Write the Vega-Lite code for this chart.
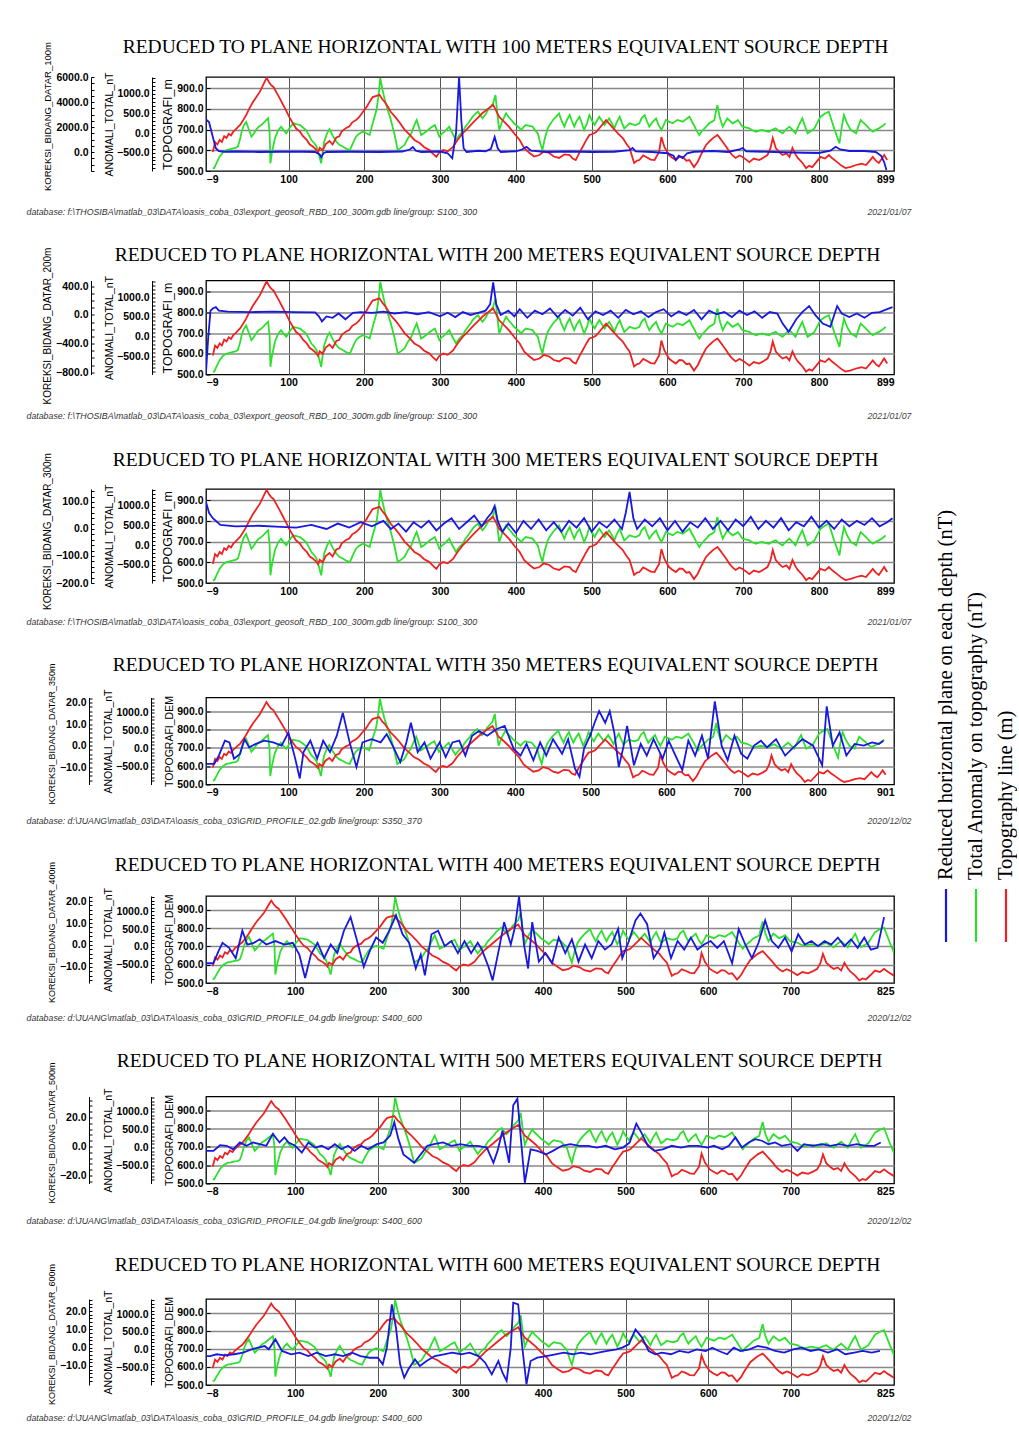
{
"$schema": "https://vega.github.io/schema/vega-lite/v6.json",
"background": "white",
"padding": {"left": 25, "top": 35, "right": 0, "bottom": 0},
"config": {
 "view": {"stroke": "#000", "strokeWidth": 1.3},
 "axis": {"grid": false, "labelFont": "Liberation Sans", "labelFontSize": 10.5, "labelFontWeight": "bold", "labelColor": "#000", "titleFont": "Liberation Sans", "titleFontWeight": "normal", "titleColor": "#000", "domainColor": "#000", "tickColor": "#000", "labelOverlap": false}
},
"datasets": {
"red": [{"x":0,"v":592},{"x":3,"v":640},{"x":6,"v":628},{"x":9,"v":650},{"x":12,"v":640},{"x":15,"v":668},{"x":18,"v":660},{"x":21,"v":680},{"x":24,"v":672},{"x":27,"v":690},{"x":30,"v":700},{"x":33,"v":712},{"x":36,"v":722},{"x":40,"v":745},{"x":44,"v":770},{"x":48,"v":800},{"x":53,"v":833},{"x":57,"v":855},{"x":62,"v":882},{"x":66,"v":912},{"x":69,"v":935},{"x":71,"v":950},{"x":74,"v":930},{"x":77,"v":915},{"x":80,"v":906},{"x":84,"v":880},{"x":88,"v":853},{"x":92,"v":825},{"x":97,"v":790},{"x":101,"v":760},{"x":106,"v":728},{"x":110,"v":705},{"x":115,"v":690},{"x":119,"v":668},{"x":124,"v":650},{"x":128,"v":628},{"x":132,"v":618},{"x":136,"v":605},{"x":139,"v":590},{"x":141,"v":612},{"x":145,"v":600},{"x":149,"v":630},{"x":154,"v":645},{"x":158,"v":628},{"x":163,"v":662},{"x":167,"v":668},{"x":170,"v":690},{"x":173,"v":700},{"x":176,"v":708},{"x":180,"v":715},{"x":184,"v":735},{"x":189,"v":746},{"x":193,"v":760},{"x":198,"v":785},{"x":203,"v":809},{"x":207,"v":835},{"x":211,"v":857},{"x":215,"v":862},{"x":220,"v":868},{"x":224,"v":845},{"x":227,"v":833},{"x":231,"v":810},{"x":235,"v":785},{"x":241,"v":760},{"x":247,"v":732},{"x":253,"v":700},{"x":260,"v":674},{"x":266,"v":650},{"x":273,"v":635},{"x":279,"v":615},{"x":286,"v":601},{"x":290,"v":585},{"x":295,"v":568},{"x":299,"v":590},{"x":304,"v":601},{"x":310,"v":595},{"x":317,"v":616},{"x":323,"v":650},{"x":330,"v":683},{"x":336,"v":705},{"x":343,"v":732},{"x":350,"v":758},{"x":356,"v":780},{"x":363,"v":800},{"x":370,"v":819},{"x":374,"v":790},{"x":378,"v":761},{"x":384,"v":740},{"x":391,"v":713},{"x":398,"v":680},{"x":405,"v":650},{"x":411,"v":610},{"x":418,"v":587},{"x":424,"v":570},{"x":431,"v":577},{"x":437,"v":595},{"x":444,"v":587},{"x":450,"v":570},{"x":457,"v":563},{"x":464,"v":580},{"x":471,"v":577},{"x":475,"v":560},{"x":479,"v":553},{"x":484,"v":590},{"x":488,"v":616},{"x":493,"v":650},{"x":497,"v":674},{"x":502,"v":680},{"x":506,"v":688},{"x":512,"v":715},{"x":519,"v":746},{"x":524,"v":725},{"x":528,"v":708},{"x":535,"v":680},{"x":541,"v":659},{"x":546,"v":630},{"x":550,"v":611},{"x":556,"v":539},{"x":560,"v":550},{"x":563,"v":553},{"x":568,"v":575},{"x":572,"v":568},{"x":578,"v":555},{"x":583,"v":553},{"x":589,"v":592},{"x":592,"v":664},{"x":596,"v":616},{"x":602,"v":577},{"x":606,"v":565},{"x":611,"v":553},{"x":616,"v":570},{"x":620,"v":568},{"x":625,"v":550},{"x":629,"v":553},{"x":635,"v":519},{"x":640,"v":545},{"x":644,"v":577},{"x":648,"v":605},{"x":651,"v":626},{"x":656,"v":645},{"x":660,"v":659},{"x":666,"v":674},{"x":670,"v":655},{"x":673,"v":640},{"x":678,"v":615},{"x":682,"v":592},{"x":686,"v":575},{"x":690,"v":563},{"x":695,"v":575},{"x":699,"v":568},{"x":704,"v":555},{"x":708,"v":543},{"x":714,"v":560},{"x":721,"v":553},{"x":727,"v":565},{"x":732,"v":577},{"x":736,"v":610},{"x":739,"v":659},{"x":743,"v":611},{"x":748,"v":590},{"x":752,"v":577},{"x":757,"v":585},{"x":761,"v":568},{"x":765,"v":611},{"x":769,"v":580},{"x":772,"v":563},{"x":778,"v":540},{"x":783,"v":514},{"x":787,"v":525},{"x":791,"v":519},{"x":797,"v":545},{"x":802,"v":568},{"x":808,"v":560},{"x":813,"v":577},{"x":818,"v":560},{"x":824,"v":543},{"x":830,"v":525},{"x":835,"v":514},{"x":842,"v":520},{"x":849,"v":529},{"x":856,"v":535},{"x":862,"v":529},{"x":867,"v":550},{"x":871,"v":568},{"x":875,"v":550},{"x":879,"v":539},{"x":883,"v":560},{"x":886,"v":577},{"x":890,"v":553}],
"green": [{"x":0,"v":-900},{"x":2,"v":-890},{"x":5,"v":-760},{"x":9,"v":-604},{"x":13,"v":-500},{"x":18,"v":-434},{"x":22,"v":-420},{"x":27,"v":-391},{"x":30,"v":-380},{"x":33,"v":-349},{"x":36,"v":-150},{"x":38,"v":26},{"x":41,"v":200},{"x":44,"v":281},{"x":47,"v":120},{"x":51,"v":-94},{"x":54,"v":-20},{"x":57,"v":76},{"x":60,"v":150},{"x":64,"v":204},{"x":68,"v":280},{"x":71,"v":340},{"x":73,"v":374},{"x":75,"v":0},{"x":76,"v":-774},{"x":78,"v":-500},{"x":82,"v":-134},{"x":86,"v":60},{"x":90,"v":162},{"x":93,"v":80},{"x":97,"v":-8},{"x":101,"v":120},{"x":106,"v":247},{"x":110,"v":230},{"x":115,"v":204},{"x":119,"v":140},{"x":123,"v":76},{"x":127,"v":-60},{"x":130,"v":-179},{"x":134,"v":-260},{"x":137,"v":-349},{"x":140,"v":-550},{"x":143,"v":-774},{"x":145,"v":-480},{"x":147,"v":-219},{"x":151,"v":0},{"x":154,"v":100},{"x":158,"v":-60},{"x":163,"v":-221},{"x":167,"v":-300},{"x":172,"v":-349},{"x":176,"v":-400},{"x":181,"v":-434},{"x":185,"v":-250},{"x":189,"v":-94},{"x":193,"v":-20},{"x":198,"v":34},{"x":202,"v":0},{"x":207,"v":-51},{"x":211,"v":250},{"x":216,"v":587},{"x":219,"v":1000},{"x":221,"v":1400},{"x":224,"v":1100},{"x":227,"v":842},{"x":231,"v":580},{"x":235,"v":332},{"x":240,"v":-50},{"x":244,"v":-434},{"x":248,"v":-380},{"x":253,"v":-306},{"x":257,"v":-150},{"x":262,"v":-8},{"x":266,"v":200},{"x":269,"v":332},{"x":272,"v":150},{"x":275,"v":-51},{"x":279,"v":0},{"x":284,"v":76},{"x":288,"v":140},{"x":293,"v":204},{"x":296,"v":60},{"x":299,"v":-94},{"x":302,"v":-20},{"x":306,"v":34},{"x":309,"v":100},{"x":312,"v":162},{"x":316,"v":0},{"x":321,"v":-179},{"x":325,"v":-60},{"x":330,"v":34},{"x":333,"v":150},{"x":337,"v":247},{"x":340,"v":330},{"x":343,"v":417},{"x":347,"v":500},{"x":350,"v":545},{"x":353,"v":450},{"x":356,"v":374},{"x":360,"v":480},{"x":363,"v":587},{"x":367,"v":680},{"x":370,"v":757},{"x":373,"v":970},{"x":376,"v":400},{"x":378,"v":76},{"x":382,"v":300},{"x":387,"v":502},{"x":390,"v":420},{"x":394,"v":332},{"x":397,"v":260},{"x":400,"v":204},{"x":404,"v":140},{"x":407,"v":76},{"x":410,"v":150},{"x":413,"v":204},{"x":418,"v":180},{"x":422,"v":162},{"x":425,"v":80},{"x":429,"v":-8},{"x":432,"v":-250},{"x":435,"v":-434},{"x":438,"v":-150},{"x":442,"v":119},{"x":445,"v":220},{"x":449,"v":332},{"x":453,"v":420},{"x":457,"v":502},{"x":460,"v":330},{"x":464,"v":162},{"x":467,"v":320},{"x":471,"v":459},{"x":474,"v":300},{"x":477,"v":162},{"x":480,"v":300},{"x":484,"v":417},{"x":487,"v":250},{"x":490,"v":76},{"x":494,"v":260},{"x":497,"v":459},{"x":500,"v":330},{"x":504,"v":204},{"x":507,"v":320},{"x":510,"v":417},{"x":514,"v":300},{"x":517,"v":204},{"x":520,"v":290},{"x":523,"v":374},{"x":527,"v":240},{"x":530,"v":119},{"x":533,"v":270},{"x":537,"v":417},{"x":540,"v":260},{"x":543,"v":119},{"x":547,"v":190},{"x":550,"v":247},{"x":554,"v":220},{"x":558,"v":204},{"x":563,"v":247},{"x":566,"v":380},{"x":570,"v":459},{"x":573,"v":300},{"x":576,"v":162},{"x":580,"v":270},{"x":585,"v":374},{"x":588,"v":220},{"x":592,"v":76},{"x":595,"v":200},{"x":598,"v":332},{"x":602,"v":290},{"x":607,"v":247},{"x":610,"v":290},{"x":613,"v":332},{"x":617,"v":310},{"x":620,"v":289},{"x":625,"v":360},{"x":629,"v":417},{"x":632,"v":300},{"x":635,"v":204},{"x":638,"v":80},{"x":642,"v":-51},{"x":645,"v":40},{"x":649,"v":119},{"x":652,"v":180},{"x":655,"v":247},{"x":659,"v":290},{"x":662,"v":332},{"x":664,"v":550},{"x":666,"v":714},{"x":669,"v":400},{"x":673,"v":162},{"x":676,"v":270},{"x":679,"v":374},{"x":683,"v":300},{"x":686,"v":247},{"x":690,"v":290},{"x":693,"v":332},{"x":696,"v":250},{"x":699,"v":162},{"x":704,"v":140},{"x":708,"v":119},{"x":712,"v":70},{"x":717,"v":34},{"x":721,"v":60},{"x":725,"v":76},{"x":730,"v":50},{"x":734,"v":34},{"x":738,"v":80},{"x":743,"v":119},{"x":747,"v":50},{"x":752,"v":-8},{"x":756,"v":80},{"x":761,"v":162},{"x":765,"v":80},{"x":769,"v":-8},{"x":773,"v":180},{"x":778,"v":374},{"x":782,"v":150},{"x":785,"v":-8},{"x":790,"v":60},{"x":794,"v":119},{"x":798,"v":270},{"x":802,"v":417},{"x":808,"v":500},{"x":813,"v":545},{"x":817,"v":300},{"x":820,"v":119},{"x":824,"v":-100},{"x":827,"v":-264},{"x":830,"v":150},{"x":833,"v":459},{"x":837,"v":250},{"x":842,"v":76},{"x":846,"v":30},{"x":849,"v":-8},{"x":852,"v":170},{"x":855,"v":332},{"x":859,"v":260},{"x":862,"v":204},{"x":867,"v":100},{"x":871,"v":34},{"x":875,"v":80},{"x":879,"v":119},{"x":884,"v":180},{"x":888,"v":247}],
"b1": [{"x":-9,"v":2600},{"x":-5,"v":2400},{"x":0,"v":1200},{"x":4,"v":300},{"x":8,"v":60},{"x":15,"v":20},{"x":30,"v":40},{"x":60,"v":0},{"x":90,"v":20},{"x":120,"v":20},{"x":135,"v":0},{"x":141,"v":-200},{"x":143,"v":-420},{"x":146,"v":-100},{"x":150,"v":0},{"x":180,"v":20},{"x":220,"v":0},{"x":250,"v":40},{"x":260,"v":200},{"x":264,"v":400},{"x":268,"v":100},{"x":275,"v":0},{"x":300,"v":40},{"x":310,"v":-100},{"x":316,"v":-500},{"x":321,"v":1500},{"x":325,"v":6000},{"x":328,"v":2500},{"x":331,"v":300},{"x":335,"v":0},{"x":350,"v":100},{"x":360,"v":60},{"x":367,"v":250},{"x":372,"v":1200},{"x":376,"v":300},{"x":380,"v":0},{"x":400,"v":60},{"x":408,"v":200},{"x":414,"v":420},{"x":420,"v":100},{"x":440,"v":0},{"x":470,"v":40},{"x":500,"v":0},{"x":530,"v":20},{"x":550,"v":150},{"x":554,"v":320},{"x":558,"v":50},{"x":580,"v":0},{"x":600,"v":-100},{"x":608,"v":-300},{"x":611,"v":-640},{"x":615,"v":-300},{"x":620,"v":-480},{"x":626,"v":-100},{"x":635,"v":20},{"x":660,"v":80},{"x":680,"v":0},{"x":695,"v":200},{"x":699,"v":320},{"x":704,"v":60},{"x":740,"v":0},{"x":780,"v":-60},{"x":800,"v":-80},{"x":815,"v":100},{"x":822,"v":420},{"x":828,"v":200},{"x":840,"v":80},{"x":860,"v":80},{"x":875,"v":0},{"x":882,"v":-300},{"x":886,"v":-800},{"x":889,"v":-1440}],
"b2": [{"x":-9,"v":-800},{"x":-6,"v":-300},{"x":-3,"v":60},{"x":0,"v":90},{"x":4,"v":110},{"x":8,"v":60},{"x":20,"v":45},{"x":50,"v":40},{"x":80,"v":45},{"x":110,"v":40},{"x":135,"v":35},{"x":140,"v":-20},{"x":144,"v":-90},{"x":150,"v":-20},{"x":158,"v":-40},{"x":166,"v":20},{"x":175,"v":-60},{"x":185,"v":30},{"x":195,"v":40},{"x":210,"v":30},{"x":225,"v":45},{"x":240,"v":20},{"x":255,"v":40},{"x":270,"v":10},{"x":285,"v":40},{"x":300,"v":-20},{"x":310,"v":30},{"x":320,"v":-30},{"x":330,"v":40},{"x":340,"v":0},{"x":350,"v":30},{"x":360,"v":60},{"x":366,"v":150},{"x":370,"v":455},{"x":374,"v":150},{"x":380,"v":0},{"x":390,"v":60},{"x":398,"v":-20},{"x":405,"v":80},{"x":415,"v":-40},{"x":425,"v":60},{"x":435,"v":10},{"x":445,"v":90},{"x":455,"v":-30},{"x":465,"v":70},{"x":475,"v":-10},{"x":485,"v":100},{"x":495,"v":-60},{"x":505,"v":50},{"x":515,"v":0},{"x":525,"v":60},{"x":535,"v":-40},{"x":545,"v":70},{"x":555,"v":10},{"x":565,"v":50},{"x":575,"v":-30},{"x":585,"v":40},{"x":595,"v":80},{"x":605,"v":-20},{"x":615,"v":50},{"x":625,"v":0},{"x":635,"v":70},{"x":645,"v":-60},{"x":655,"v":60},{"x":665,"v":10},{"x":675,"v":40},{"x":685,"v":-30},{"x":695,"v":60},{"x":705,"v":0},{"x":715,"v":50},{"x":725,"v":-40},{"x":735,"v":40},{"x":745,"v":20},{"x":752,"v":-120},{"x":760,"v":-235},{"x":770,"v":-60},{"x":778,"v":40},{"x":787,"v":124},{"x":795,"v":0},{"x":805,"v":-120},{"x":815,"v":-166},{"x":824,"v":124},{"x":830,"v":20},{"x":840,"v":-30},{"x":850,"v":20},{"x":860,"v":-40},{"x":870,"v":30},{"x":880,"v":40},{"x":890,"v":80},{"x":897,"v":110}],
"b3": [{"x":-9,"v":100},{"x":-5,"v":60},{"x":0,"v":40},{"x":10,"v":15},{"x":30,"v":10},{"x":60,"v":12},{"x":90,"v":8},{"x":110,"v":5},{"x":130,"v":15},{"x":150,"v":0},{"x":165,"v":20},{"x":180,"v":5},{"x":195,"v":25},{"x":210,"v":10},{"x":225,"v":30},{"x":235,"v":0},{"x":245,"v":20},{"x":255,"v":-10},{"x":265,"v":25},{"x":275,"v":5},{"x":285,"v":30},{"x":295,"v":-5},{"x":305,"v":20},{"x":315,"v":40},{"x":325,"v":0},{"x":335,"v":25},{"x":345,"v":50},{"x":355,"v":10},{"x":362,"v":40},{"x":368,"v":60},{"x":372,"v":85},{"x":376,"v":30},{"x":382,"v":-10},{"x":390,"v":20},{"x":400,"v":-15},{"x":410,"v":30},{"x":420,"v":0},{"x":430,"v":35},{"x":440,"v":-5},{"x":450,"v":25},{"x":460,"v":-10},{"x":470,"v":30},{"x":480,"v":5},{"x":490,"v":40},{"x":500,"v":-10},{"x":510,"v":25},{"x":520,"v":5},{"x":530,"v":35},{"x":540,"v":0},{"x":545,"v":60},{"x":550,"v":137},{"x":555,"v":40},{"x":560,"v":0},{"x":570,"v":35},{"x":580,"v":10},{"x":590,"v":40},{"x":600,"v":-5},{"x":610,"v":30},{"x":620,"v":-10},{"x":630,"v":25},{"x":640,"v":5},{"x":650,"v":40},{"x":660,"v":0},{"x":670,"v":30},{"x":680,"v":-5},{"x":690,"v":35},{"x":700,"v":10},{"x":710,"v":45},{"x":720,"v":0},{"x":730,"v":30},{"x":740,"v":5},{"x":750,"v":40},{"x":760,"v":-5},{"x":770,"v":25},{"x":780,"v":10},{"x":790,"v":45},{"x":800,"v":5},{"x":810,"v":30},{"x":820,"v":0},{"x":830,"v":35},{"x":840,"v":10},{"x":850,"v":30},{"x":860,"v":15},{"x":870,"v":40},{"x":880,"v":10},{"x":890,"v":25},{"x":897,"v":40}],
"b4": [{"x":-8,"v":-8.4},{"x":2,"v":-8.4},{"x":8,"v":-4.6},{"x":16,"v":2.3},{"x":22,"v":1.5},{"x":28,"v":-6},{"x":36,"v":-3.8},{"x":42,"v":3},{"x":48,"v":-0.8},{"x":57,"v":0.8},{"x":68,"v":2.3},{"x":80,"v":1.5},{"x":91,"v":0},{"x":100,"v":6.1},{"x":109,"v":-6},{"x":115,"v":-15.2},{"x":120,"v":-3},{"x":129,"v":2.3},{"x":138,"v":-6},{"x":146,"v":2.3},{"x":155,"v":-3},{"x":164,"v":4.6},{"x":172,"v":15.2},{"x":181,"v":1.5},{"x":190,"v":-9.9},{"x":198,"v":1.5},{"x":210,"v":3},{"x":222,"v":1.5},{"x":230,"v":5.3},{"x":239,"v":-0.8},{"x":248,"v":-7.6},{"x":256,"v":1.5},{"x":262,"v":10.6},{"x":271,"v":-3},{"x":280,"v":1.5},{"x":288,"v":-6},{"x":300,"v":1.5},{"x":308,"v":-5.3},{"x":317,"v":1.5},{"x":326,"v":2.3},{"x":334,"v":-4.6},{"x":343,"v":4.6},{"x":352,"v":6.8},{"x":363,"v":4.6},{"x":375,"v":7.6},{"x":386,"v":9.1},{"x":398,"v":-1.5},{"x":407,"v":-4.6},{"x":415,"v":0.8},{"x":424,"v":-6.8},{"x":433,"v":1.5},{"x":441,"v":-4.6},{"x":450,"v":3},{"x":462,"v":-3.8},{"x":470,"v":3},{"x":479,"v":-10.6},{"x":485,"v":-14.4},{"x":491,"v":-1.5},{"x":499,"v":4.6},{"x":505,"v":10.6},{"x":511,"v":16},{"x":519,"v":10.6},{"x":525,"v":16},{"x":531,"v":6.1},{"x":537,"v":-9.9},{"x":543,"v":-0.8},{"x":548,"v":9.1},{"x":557,"v":-9.1},{"x":566,"v":0.8},{"x":574,"v":-4.6},{"x":583,"v":3},{"x":595,"v":-6},{"x":603,"v":2.3},{"x":612,"v":-4.6},{"x":621,"v":-11.4},{"x":629,"v":2.3},{"x":638,"v":-4.6},{"x":647,"v":4.6},{"x":655,"v":-6},{"x":664,"v":20.5},{"x":673,"v":0},{"x":681,"v":-6.8},{"x":690,"v":4.6},{"x":699,"v":-3.8},{"x":707,"v":-6},{"x":716,"v":0},{"x":725,"v":2.3},{"x":733,"v":-0.8},{"x":745,"v":3},{"x":757,"v":-4.6},{"x":768,"v":-0.8},{"x":780,"v":3},{"x":794,"v":0},{"x":806,"v":-9.1},{"x":812,"v":18.2},{"x":820,"v":0},{"x":829,"v":6.1},{"x":838,"v":-4.6},{"x":849,"v":0.8},{"x":861,"v":0},{"x":872,"v":1.5},{"x":881,"v":0.8},{"x":887,"v":2.3}],
"b5": [{"x":-8,"v":-8.3},{"x":1,"v":-8.3},{"x":7,"v":-2.9},{"x":12,"v":1},{"x":20,"v":-1.3},{"x":28,"v":-6},{"x":36,"v":6.5},{"x":42,"v":0.2},{"x":50,"v":1},{"x":57,"v":2.6},{"x":65,"v":0.2},{"x":76,"v":1.8},{"x":87,"v":0.2},{"x":97,"v":1},{"x":105,"v":-4.4},{"x":112,"v":-15},{"x":119,"v":-4.4},{"x":127,"v":1},{"x":135,"v":-6},{"x":143,"v":0.2},{"x":151,"v":-3.7},{"x":159,"v":6.5},{"x":167,"v":12.7},{"x":175,"v":1.8},{"x":183,"v":-9.9},{"x":191,"v":-2.1},{"x":198,"v":3.4},{"x":206,"v":1},{"x":214,"v":6.5},{"x":222,"v":13.5},{"x":230,"v":4.9},{"x":238,"v":1},{"x":246,"v":-10.7},{"x":252,"v":-4.4},{"x":257,"v":-13.8},{"x":265,"v":4.9},{"x":273,"v":6.5},{"x":281,"v":-0.5},{"x":289,"v":1.8},{"x":297,"v":-3.7},{"x":305,"v":1.8},{"x":313,"v":-3.7},{"x":321,"v":1},{"x":326,"v":-2.1},{"x":334,"v":-9.9},{"x":339,"v":-16.1},{"x":347,"v":-1.3},{"x":353,"v":10.4},{"x":361,"v":0.2},{"x":366,"v":8},{"x":371,"v":22},{"x":377,"v":0.2},{"x":382,"v":-10.7},{"x":387,"v":10.4},{"x":395,"v":-7.6},{"x":403,"v":-3.7},{"x":411,"v":-8.3},{"x":419,"v":3.4},{"x":427,"v":-3.7},{"x":435,"v":2.6},{"x":443,"v":-7.6},{"x":451,"v":0.2},{"x":459,"v":-6},{"x":467,"v":1.8},{"x":475,"v":-2.1},{"x":483,"v":0.2},{"x":491,"v":7.3},{"x":496,"v":-6},{"x":504,"v":1.8},{"x":512,"v":11.2},{"x":518,"v":14.3},{"x":526,"v":9.6},{"x":534,"v":-6},{"x":542,"v":-1.3},{"x":547,"v":5.7},{"x":555,"v":-6},{"x":563,"v":1.8},{"x":571,"v":-2.1},{"x":579,"v":3.4},{"x":587,"v":-2.1},{"x":595,"v":0.2},{"x":603,"v":1.8},{"x":611,"v":-1.3},{"x":619,"v":1.8},{"x":629,"v":-8.3},{"x":637,"v":7.3},{"x":645,"v":0.2},{"x":653,"v":-6},{"x":661,"v":1},{"x":669,"v":11.2},{"x":677,"v":1.8},{"x":685,"v":-1.3},{"x":693,"v":3.4},{"x":701,"v":-2.9},{"x":709,"v":4.9},{"x":717,"v":0.2},{"x":725,"v":1.8},{"x":733,"v":-0.5},{"x":741,"v":1.8},{"x":749,"v":0.2},{"x":757,"v":3.4},{"x":765,"v":-0.5},{"x":773,"v":2.6},{"x":781,"v":-1.3},{"x":789,"v":3.4},{"x":797,"v":-2.1},{"x":805,"v":-1.3},{"x":813,"v":12.7}],
"b6": [{"x":-8,"v":-3},{"x":1,"v":-3},{"x":9,"v":0.9},{"x":17,"v":0.5},{"x":25,"v":-1.9},{"x":33,"v":2.8},{"x":41,"v":0.5},{"x":49,"v":2.8},{"x":57,"v":1.6},{"x":65,"v":0.5},{"x":73,"v":8.7},{"x":81,"v":2.8},{"x":87,"v":6.3},{"x":92,"v":2.8},{"x":100,"v":0.5},{"x":108,"v":-4.2},{"x":116,"v":2.8},{"x":124,"v":-0.7},{"x":132,"v":0.5},{"x":140,"v":-1.9},{"x":148,"v":1.6},{"x":156,"v":-1.9},{"x":164,"v":0.5},{"x":172,"v":-3},{"x":180,"v":0.5},{"x":188,"v":-1.9},{"x":199,"v":1.6},{"x":207,"v":2.8},{"x":215,"v":7.5},{"x":220,"v":16.8},{"x":225,"v":5.1},{"x":231,"v":-5.4},{"x":239,"v":-8.9},{"x":244,"v":-11.2},{"x":252,"v":-5.4},{"x":260,"v":0.5},{"x":268,"v":1.6},{"x":279,"v":2.8},{"x":289,"v":0.5},{"x":300,"v":1.6},{"x":311,"v":0.5},{"x":321,"v":0.5},{"x":332,"v":-0.7},{"x":340,"v":-11.2},{"x":345,"v":-3},{"x":351,"v":11},{"x":359,"v":-11.2},{"x":364,"v":28.5},{"x":369,"v":33},{"x":374,"v":0.5},{"x":378,"v":-25},{"x":385,"v":-1.9},{"x":393,"v":-3},{"x":404,"v":-5.4},{"x":412,"v":-3},{"x":423,"v":0.5},{"x":433,"v":1.6},{"x":444,"v":0.5},{"x":455,"v":0.5},{"x":465,"v":-0.7},{"x":476,"v":0.5},{"x":487,"v":-1.9},{"x":497,"v":-0.7},{"x":505,"v":2.8},{"x":513,"v":15.7},{"x":519,"v":9.8},{"x":527,"v":0.5},{"x":535,"v":-3},{"x":545,"v":-1.9},{"x":556,"v":0.5},{"x":567,"v":-0.7},{"x":577,"v":0.5},{"x":588,"v":0.5},{"x":599,"v":-0.7},{"x":607,"v":0.5},{"x":617,"v":-1.9},{"x":625,"v":0.5},{"x":633,"v":6.3},{"x":641,"v":-0.7},{"x":649,"v":2.8},{"x":657,"v":5.1},{"x":665,"v":4},{"x":673,"v":1.6},{"x":681,"v":2.8},{"x":689,"v":0.5},{"x":700,"v":1.6},{"x":708,"v":-3},{"x":716,"v":1.6},{"x":727,"v":0.5},{"x":737,"v":1.6},{"x":748,"v":0.5},{"x":759,"v":1.6},{"x":769,"v":0.5},{"x":780,"v":1.6},{"x":791,"v":0.5},{"x":801,"v":0.5},{"x":809,"v":2.8}],
"b7": [{"x":-8,"v":-4.6},{"x":-3,"v":-4.6},{"x":5,"v":-3.6},{"x":15,"v":-4.2},{"x":26,"v":-3.6},{"x":37,"v":-2.7},{"x":47,"v":-0.9},{"x":55,"v":0},{"x":63,"v":0.9},{"x":68,"v":-0.9},{"x":76,"v":4.6},{"x":84,"v":-1.8},{"x":95,"v":-3.6},{"x":105,"v":-2.7},{"x":116,"v":-4.6},{"x":126,"v":-2.7},{"x":137,"v":-4.6},{"x":148,"v":-3.6},{"x":158,"v":-4.6},{"x":169,"v":-2.7},{"x":179,"v":-4.6},{"x":190,"v":-5.5},{"x":200,"v":-5.5},{"x":206,"v":-9.1},{"x":211,"v":0},{"x":217,"v":23.7},{"x":222,"v":10.9},{"x":227,"v":-9.1},{"x":232,"v":-16.4},{"x":237,"v":-11.8},{"x":245,"v":-6.4},{"x":251,"v":-10},{"x":259,"v":-7.3},{"x":269,"v":-4.6},{"x":280,"v":-3.6},{"x":290,"v":-2.7},{"x":301,"v":-3.6},{"x":311,"v":-2.7},{"x":322,"v":-4.6},{"x":330,"v":-8.2},{"x":338,"v":-14.6},{"x":346,"v":-7.3},{"x":351,"v":-13.7},{"x":356,"v":-18.2},{"x":361,"v":0},{"x":364,"v":24.6},{"x":370,"v":23.7},{"x":375,"v":0},{"x":380,"v":-20},{"x":385,"v":-7.3},{"x":393,"v":-5.5},{"x":404,"v":-4.6},{"x":415,"v":-3.6},{"x":425,"v":-2.7},{"x":436,"v":-3.6},{"x":446,"v":-2.7},{"x":457,"v":-3.6},{"x":467,"v":-2.7},{"x":478,"v":-1.8},{"x":489,"v":-0.9},{"x":496,"v":0},{"x":504,"v":1.8},{"x":512,"v":10},{"x":520,"v":5.5},{"x":528,"v":-1.8},{"x":536,"v":-3.6},{"x":544,"v":-2.7},{"x":555,"v":-3.6},{"x":565,"v":-1.8},{"x":576,"v":-2.7},{"x":586,"v":-0.9},{"x":597,"v":-1.8},{"x":605,"v":0},{"x":613,"v":-1.8},{"x":623,"v":-3.6},{"x":631,"v":0},{"x":639,"v":-1.8},{"x":650,"v":-0.9},{"x":660,"v":0.9},{"x":671,"v":0},{"x":681,"v":-1.8},{"x":692,"v":-2.7},{"x":703,"v":-0.9},{"x":713,"v":0},{"x":724,"v":-1.8},{"x":734,"v":-0.9},{"x":745,"v":-2.7},{"x":756,"v":-0.9},{"x":766,"v":-3.6},{"x":777,"v":-2.7},{"x":787,"v":-1.8},{"x":798,"v":-2.7},{"x":808,"v":-1.8}],
"legend": [{"i":0,"c":"b","label":"Reduced horizontal plane on each depth (nT)"},{"i":1,"c":"g","label":"Total Anomaly on topography (nT)"},{"i":2,"c":"r","label":"Topography line (m)"}]
},
"spacing": 23,
"hconcat": [
{"spacing": 26.5, "vconcat": [
{"width": 688, "height": 94, "resolve": {"scale": {"x": "independent", "y": "independent"}}, "layer": [
 {"data": {"name": "green"}, "mark": {"type": "line", "color": "#2ee02e", "strokeWidth": 1.8, "clip": true}, "encoding": {
  "x": {"field": "x", "type": "quantitative", "scale": {"domain": [-9, 899], "nice": false, "zero": false}, "axis": {"orient": "bottom", "labels": false, "ticks": false, "domain": false, "title": "2021/01/07", "titleX": 705, "titleY": 43, "titleAlign": "right", "titleBaseline": "alphabetic", "titleFontSize": 8.8, "titleFontStyle": "italic", "titleColor": "#444"}},
  "y": {"field": "v", "type": "quantitative", "scale": {"domain": [-970, 1430], "nice": false, "zero": false}, "axis": {"orient": "left", "offset": 54, "values": [-900,-800,-700,-600,-500,-400,-300,-200,-100,0,100,200,300,400,500,600,700,800,900,1000,1100,1200,1300,1400], "labelExpr": "datum.value % 500 === 0 ? format(datum.value, '.1f') : ''", "tickSize": -3, "labelPadding": 6, "title": "ANOMALI_TOTAL_nT", "titleFontSize": 10.5, "titlePadding": 2}}}},
 {"data": {"name": "red"}, "mark": {"type": "line", "color": "#ee2222", "strokeWidth": 1.8, "clip": true}, "encoding": {
  "x": {"field": "x", "type": "quantitative", "scale": {"domain": [-9, 899], "nice": false, "zero": false}, "axis": {"orient": "bottom", "values": [-9,100,200,300,400,500,600,700,800,899], "labelFlush": true, "grid": true, "gridColor": "#555", "gridOpacity": {"condition": {"test": "datum.value < 0 || datum.value > 850", "value": 0}, "value": 1}, "ticks": false, "domain": false, "labelPadding": 3, "title": "database: f:\\THOSIBA\\matlab_03\\DATA\\oasis_coba_03\\export_geosoft_RBD_100_300m.gdb   line/group: S100_300", "titleX": -180, "titleY": 43, "titleAlign": "left", "titleBaseline": "alphabetic", "titleFontSize": 8.8, "titleFontStyle": "italic", "titleColor": "#333"}},
  "y": {"field": "v", "type": "quantitative", "scale": {"domain": [500, 954], "nice": false, "zero": false}, "axis": {"orient": "left", "values": [500,600,700,800,900], "format": ".1f", "grid": true, "gridColor": "#888", "gridWidth": 1.5, "gridOpacity": {"condition": {"test": "datum.value === 500", "value": 0}, "value": 1}, "tickSize": -4, "labelPadding": 7, "domain": false, "title": "TOPOGRAFI_m", "titleFontSize": 12.5, "titlePadding": 2}}}},
 {"data": {"name": "b1"}, "mark": {"type": "line", "color": "#1818e0", "strokeWidth": 1.8, "clip": true}, "encoding": {
  "x": {"field": "x", "type": "quantitative", "scale": {"domain": [-9, 899], "nice": false, "zero": false}, "axis": {"orient": "top", "labels": false, "ticks": false, "domain": false, "title": "REDUCED TO PLANE HORIZONTAL WITH 100 METERS EQUIVALENT SOURCE DEPTH", "titleX": 299, "titleY": -25, "titleAlign": "center", "titleBaseline": "alphabetic", "titleFont": "Liberation Serif", "titleFontSize": 19.5}},
  "y": {"field": "v", "type": "quantitative", "scale": {"domain": [-1520, 6000], "nice": false, "zero": false}, "axis": {"orient": "left", "offset": 115, "values": [-1500,-1000,-500,0,500,1000,1500,2000,2500,3000,3500,4000,4500,5000,5500,6000], "labelExpr": "datum.value % 2000 === 0 ? format(datum.value, '.1f') : ''", "tickSize": -3, "labelPadding": 6, "title": "KOREKSI_BIDANG_DATAR_100m", "titleFontSize": 9.5, "titlePadding": 3, "titleY": 39}}}}
]},
{"width": 688, "height": 94, "resolve": {"scale": {"x": "independent", "y": "independent"}}, "layer": [
 {"data": {"name": "green"}, "mark": {"type": "line", "color": "#2ee02e", "strokeWidth": 1.8, "clip": true}, "encoding": {
  "x": {"field": "x", "type": "quantitative", "scale": {"domain": [-9, 899], "nice": false, "zero": false}, "axis": {"orient": "bottom", "labels": false, "ticks": false, "domain": false, "title": "2021/01/07", "titleX": 705, "titleY": 44, "titleAlign": "right", "titleBaseline": "alphabetic", "titleFontSize": 8.8, "titleFontStyle": "italic", "titleColor": "#444"}},
  "y": {"field": "v", "type": "quantitative", "scale": {"domain": [-970, 1430], "nice": false, "zero": false}, "axis": {"orient": "left", "offset": 54, "values": [-900,-800,-700,-600,-500,-400,-300,-200,-100,0,100,200,300,400,500,600,700,800,900,1000,1100,1200,1300,1400], "labelExpr": "datum.value % 500 === 0 ? format(datum.value, '.1f') : ''", "tickSize": -3, "labelPadding": 6, "title": "ANOMALI_TOTAL_nT", "titleFontSize": 10.5, "titlePadding": 2}}}},
 {"data": {"name": "red"}, "mark": {"type": "line", "color": "#ee2222", "strokeWidth": 1.8, "clip": true}, "encoding": {
  "x": {"field": "x", "type": "quantitative", "scale": {"domain": [-9, 899], "nice": false, "zero": false}, "axis": {"orient": "bottom", "values": [-9,100,200,300,400,500,600,700,800,899], "labelFlush": true, "grid": true, "gridColor": "#555", "gridOpacity": {"condition": {"test": "datum.value < 0 || datum.value > 850", "value": 0}, "value": 1}, "ticks": false, "domain": false, "labelPadding": 3, "title": "database: f:\\THOSIBA\\matlab_03\\DATA\\oasis_coba_03\\export_geosoft_RBD_100_300m.gdb   line/group: S100_300", "titleX": -180, "titleY": 44, "titleAlign": "left", "titleBaseline": "alphabetic", "titleFontSize": 8.8, "titleFontStyle": "italic", "titleColor": "#333"}},
  "y": {"field": "v", "type": "quantitative", "scale": {"domain": [500, 954], "nice": false, "zero": false}, "axis": {"orient": "left", "values": [500,600,700,800,900], "format": ".1f", "grid": true, "gridColor": "#888", "gridWidth": 1.5, "gridOpacity": {"condition": {"test": "datum.value === 500", "value": 0}, "value": 1}, "tickSize": -4, "labelPadding": 7, "domain": false, "title": "TOPOGRAFI_m", "titleFontSize": 12.5, "titlePadding": 2}}}},
 {"data": {"name": "b2"}, "mark": {"type": "line", "color": "#1818e0", "strokeWidth": 1.8, "clip": true}, "encoding": {
  "x": {"field": "x", "type": "quantitative", "scale": {"domain": [-9, 899], "nice": false, "zero": false}, "axis": {"orient": "top", "labels": false, "ticks": false, "domain": false, "title": "REDUCED TO PLANE HORIZONTAL WITH 200 METERS EQUIVALENT SOURCE DEPTH", "titleX": 291, "titleY": -20, "titleAlign": "center", "titleBaseline": "alphabetic", "titleFont": "Liberation Serif", "titleFontSize": 19.5}},
  "y": {"field": "v", "type": "quantitative", "scale": {"domain": [-830, 480], "nice": false, "zero": false}, "axis": {"orient": "left", "offset": 115, "values": [-800,-700,-600,-500,-400,-300,-200,-100,0,100,200,300,400], "labelExpr": "datum.value % 400 === 0 ? format(datum.value, '.1f') : ''", "tickSize": -3, "labelPadding": 6, "title": "KOREKSI_BIDANG_DATAR_200m", "titleFontSize": 10, "titlePadding": 3, "titleY": 45}}}}
]},
{"width": 688, "height": 94, "resolve": {"scale": {"x": "independent", "y": "independent"}}, "layer": [
 {"data": {"name": "green"}, "mark": {"type": "line", "color": "#2ee02e", "strokeWidth": 1.8, "clip": true}, "encoding": {
  "x": {"field": "x", "type": "quantitative", "scale": {"domain": [-9, 899], "nice": false, "zero": false}, "axis": {"orient": "bottom", "labels": false, "ticks": false, "domain": false, "title": "2021/01/07", "titleX": 705, "titleY": 41, "titleAlign": "right", "titleBaseline": "alphabetic", "titleFontSize": 8.8, "titleFontStyle": "italic", "titleColor": "#444"}},
  "y": {"field": "v", "type": "quantitative", "scale": {"domain": [-970, 1430], "nice": false, "zero": false}, "axis": {"orient": "left", "offset": 54, "values": [-900,-800,-700,-600,-500,-400,-300,-200,-100,0,100,200,300,400,500,600,700,800,900,1000,1100,1200,1300,1400], "labelExpr": "datum.value % 500 === 0 ? format(datum.value, '.1f') : ''", "tickSize": -3, "labelPadding": 6, "title": "ANOMALI_TOTAL_nT", "titleFontSize": 10.5, "titlePadding": 2}}}},
 {"data": {"name": "red"}, "mark": {"type": "line", "color": "#ee2222", "strokeWidth": 1.8, "clip": true}, "encoding": {
  "x": {"field": "x", "type": "quantitative", "scale": {"domain": [-9, 899], "nice": false, "zero": false}, "axis": {"orient": "bottom", "values": [-9,100,200,300,400,500,600,700,800,899], "labelFlush": true, "grid": true, "gridColor": "#555", "gridOpacity": {"condition": {"test": "datum.value < 0 || datum.value > 850", "value": 0}, "value": 1}, "ticks": false, "domain": false, "labelPadding": 3, "title": "database: f:\\THOSIBA\\matlab_03\\DATA\\oasis_coba_03\\export_geosoft_RBD_100_300m.gdb   line/group: S100_300", "titleX": -180, "titleY": 41, "titleAlign": "left", "titleBaseline": "alphabetic", "titleFontSize": 8.8, "titleFontStyle": "italic", "titleColor": "#333"}},
  "y": {"field": "v", "type": "quantitative", "scale": {"domain": [500, 954], "nice": false, "zero": false}, "axis": {"orient": "left", "values": [500,600,700,800,900], "format": ".1f", "grid": true, "gridColor": "#888", "gridWidth": 1.5, "gridOpacity": {"condition": {"test": "datum.value === 500", "value": 0}, "value": 1}, "tickSize": -4, "labelPadding": 7, "domain": false, "title": "TOPOGRAFI_m", "titleFontSize": 12.5, "titlePadding": 2}}}},
 {"data": {"name": "b3"}, "mark": {"type": "line", "color": "#1818e0", "strokeWidth": 1.8, "clip": true}, "encoding": {
  "x": {"field": "x", "type": "quantitative", "scale": {"domain": [-9, 899], "nice": false, "zero": false}, "axis": {"orient": "top", "labels": false, "ticks": false, "domain": false, "title": "REDUCED TO PLANE HORIZONTAL WITH 300 METERS EQUIVALENT SOURCE DEPTH", "titleX": 289, "titleY": -24, "titleAlign": "center", "titleBaseline": "alphabetic", "titleFont": "Liberation Serif", "titleFontSize": 19.5}},
  "y": {"field": "v", "type": "quantitative", "scale": {"domain": [-200, 148], "nice": false, "zero": false}, "axis": {"orient": "left", "offset": 115, "values": [-200,-180,-160,-140,-120,-100,-80,-60,-40,-20,0,20,40,60,80,100,120,140], "labelExpr": "datum.value % 100 === 0 ? format(datum.value, '.1f') : ''", "tickSize": -3, "labelPadding": 6, "title": "KOREKSI_BIDANG_DATAR_300m", "titleFontSize": 10, "titlePadding": 3, "titleY": 42}}}}
]},
{"width": 688, "height": 87, "resolve": {"scale": {"x": "independent", "y": "independent"}}, "layer": [
 {"data": {"name": "green"}, "mark": {"type": "line", "color": "#2ee02e", "strokeWidth": 1.8, "clip": true}, "encoding": {
  "x": {"field": "x", "type": "quantitative", "scale": {"domain": [-9, 901], "nice": false, "zero": false}, "axis": {"orient": "bottom", "labels": false, "ticks": false, "domain": false, "title": "2020/12/02", "titleX": 705, "titleY": 39, "titleAlign": "right", "titleBaseline": "alphabetic", "titleFontSize": 8.8, "titleFontStyle": "italic", "titleColor": "#444"}},
  "y": {"field": "v", "type": "quantitative", "scale": {"domain": [-1010, 1430], "nice": false, "zero": false}, "axis": {"orient": "left", "offset": 55, "values": [-900,-800,-700,-600,-500,-400,-300,-200,-100,0,100,200,300,400,500,600,700,800,900,1000,1100,1200,1300,1400], "labelExpr": "datum.value % 500 === 0 ? format(datum.value, '.1f') : ''", "tickSize": -3, "labelPadding": 6, "title": "ANOMALI_TOTAL_nT", "titleFontSize": 10.5, "titlePadding": 2}}}},
 {"data": {"name": "red"}, "mark": {"type": "line", "color": "#ee2222", "strokeWidth": 1.8, "clip": true}, "encoding": {
  "x": {"field": "x", "type": "quantitative", "scale": {"domain": [-9, 901], "nice": false, "zero": false}, "axis": {"orient": "bottom", "values": [-9,100,200,300,400,500,600,700,800,901], "labelFlush": true, "grid": true, "gridColor": "#555", "gridOpacity": {"condition": {"test": "datum.value < 0 || datum.value > 850", "value": 0}, "value": 1}, "ticks": false, "domain": false, "labelPadding": 3, "title": "database: d:\\JUANG\\matlab_03\\DATA\\oasis_coba_03\\GRID_PROFILE_02.gdb   line/group: S350_370", "titleX": -180, "titleY": 39, "titleAlign": "left", "titleBaseline": "alphabetic", "titleFontSize": 8.8, "titleFontStyle": "italic", "titleColor": "#333"}},
  "y": {"field": "v", "type": "quantitative", "scale": {"domain": [500, 975], "nice": false, "zero": false}, "axis": {"orient": "left", "values": [500,600,700,800,900], "format": ".1f", "grid": true, "gridColor": "#888", "gridWidth": 1.5, "gridOpacity": {"condition": {"test": "datum.value === 500", "value": 0}, "value": 1}, "tickSize": -4, "labelPadding": 7, "domain": false, "title": "TOPOGRAFI_DEM", "titleFontSize": 10.5, "titlePadding": 2}}}},
 {"data": {"name": "b4"}, "mark": {"type": "line", "color": "#1818e0", "strokeWidth": 1.8, "clip": true}, "encoding": {
  "x": {"field": "x", "type": "quantitative", "scale": {"domain": [-9, 901], "nice": false, "zero": false}, "axis": {"orient": "top", "labels": false, "ticks": false, "domain": false, "title": "REDUCED TO PLANE HORIZONTAL WITH 350 METERS EQUIVALENT SOURCE DEPTH", "titleX": 289, "titleY": -27, "titleAlign": "center", "titleBaseline": "alphabetic", "titleFont": "Liberation Serif", "titleFontSize": 19.5}},
  "y": {"field": "v", "type": "quantitative", "scale": {"domain": [-18, 22.3], "nice": false, "zero": false}, "axis": {"orient": "left", "offset": 117, "values": [-16,-14,-12,-10,-8,-6,-4,-2,0,2,4,6,8,10,12,14,16,18,20,22], "labelExpr": "datum.value % 10 === 0 ? format(datum.value, '.1f') : ''", "tickSize": -3, "labelPadding": 6, "title": "KOREKSI_BIDANG_DATAR_350m", "titleFontSize": 9, "titlePadding": 3, "titleY": 36}}}}
]},
{"width": 688, "height": 87, "resolve": {"scale": {"x": "independent", "y": "independent"}}, "layer": [
 {"data": {"name": "green"}, "mark": {"type": "line", "color": "#2ee02e", "strokeWidth": 1.8, "clip": true}, "encoding": {
  "x": {"field": "x", "type": "quantitative", "scale": {"domain": [-8, 825], "nice": false, "zero": false}, "axis": {"orient": "bottom", "labels": false, "ticks": false, "domain": false, "title": "2020/12/02", "titleX": 705, "titleY": 37, "titleAlign": "right", "titleBaseline": "alphabetic", "titleFontSize": 8.8, "titleFontStyle": "italic", "titleColor": "#444"}},
  "y": {"field": "v", "type": "quantitative", "scale": {"domain": [-1010, 1430], "nice": false, "zero": false}, "axis": {"orient": "left", "offset": 55, "values": [-900,-800,-700,-600,-500,-400,-300,-200,-100,0,100,200,300,400,500,600,700,800,900,1000,1100,1200,1300,1400], "labelExpr": "datum.value % 500 === 0 ? format(datum.value, '.1f') : ''", "tickSize": -3, "labelPadding": 6, "title": "ANOMALI_TOTAL_nT", "titleFontSize": 10.5, "titlePadding": 2}}}},
 {"data": {"name": "red"}, "mark": {"type": "line", "color": "#ee2222", "strokeWidth": 1.8, "clip": true}, "encoding": {
  "x": {"field": "x", "type": "quantitative", "scale": {"domain": [-8, 825], "nice": false, "zero": false}, "axis": {"orient": "bottom", "values": [-8,100,200,300,400,500,600,700,825], "labelFlush": true, "grid": true, "gridColor": "#555", "gridOpacity": {"condition": {"test": "datum.value < 0 || datum.value > 800", "value": 0}, "value": 1}, "ticks": false, "domain": false, "labelPadding": 3, "title": "database: d:\\JUANG\\matlab_03\\DATA\\oasis_coba_03\\GRID_PROFILE_04.gdb   line/group: S400_600", "titleX": -180, "titleY": 37, "titleAlign": "left", "titleBaseline": "alphabetic", "titleFontSize": 8.8, "titleFontStyle": "italic", "titleColor": "#333"}},
  "y": {"field": "v", "type": "quantitative", "scale": {"domain": [500, 975], "nice": false, "zero": false}, "axis": {"orient": "left", "values": [500,600,700,800,900], "format": ".1f", "grid": true, "gridColor": "#888", "gridWidth": 1.5, "gridOpacity": {"condition": {"test": "datum.value === 500", "value": 0}, "value": 1}, "tickSize": -4, "labelPadding": 7, "domain": false, "title": "TOPOGRAFI_DEM", "titleFontSize": 10.5, "titlePadding": 2}}}},
 {"data": {"name": "b5"}, "mark": {"type": "line", "color": "#1818e0", "strokeWidth": 1.8, "clip": true}, "encoding": {
  "x": {"field": "x", "type": "quantitative", "scale": {"domain": [-8, 825], "nice": false, "zero": false}, "axis": {"orient": "top", "labels": false, "ticks": false, "domain": false, "title": "REDUCED TO PLANE HORIZONTAL WITH 400 METERS EQUIVALENT SOURCE DEPTH", "titleX": 291, "titleY": -26, "titleAlign": "center", "titleBaseline": "alphabetic", "titleFont": "Liberation Serif", "titleFontSize": 19.5}},
  "y": {"field": "v", "type": "quantitative", "scale": {"domain": [-17.3, 22.3], "nice": false, "zero": false}, "axis": {"orient": "left", "offset": 117, "values": [-16,-14,-12,-10,-8,-6,-4,-2,0,2,4,6,8,10,12,14,16,18,20,22], "labelExpr": "datum.value % 10 === 0 ? format(datum.value, '.1f') : ''", "tickSize": -3, "labelPadding": 6, "title": "KOREKSI_BIDANG_DATAR_400m", "titleFontSize": 9, "titlePadding": 3, "titleY": 36}}}}
]},
{"width": 688, "height": 87, "resolve": {"scale": {"x": "independent", "y": "independent"}}, "layer": [
 {"data": {"name": "green"}, "mark": {"type": "line", "color": "#2ee02e", "strokeWidth": 1.8, "clip": true}, "encoding": {
  "x": {"field": "x", "type": "quantitative", "scale": {"domain": [-8, 825], "nice": false, "zero": false}, "axis": {"orient": "bottom", "labels": false, "ticks": false, "domain": false, "title": "2020/12/02", "titleX": 705, "titleY": 40, "titleAlign": "right", "titleBaseline": "alphabetic", "titleFontSize": 8.8, "titleFontStyle": "italic", "titleColor": "#444"}},
  "y": {"field": "v", "type": "quantitative", "scale": {"domain": [-1010, 1430], "nice": false, "zero": false}, "axis": {"orient": "left", "offset": 55, "values": [-900,-800,-700,-600,-500,-400,-300,-200,-100,0,100,200,300,400,500,600,700,800,900,1000,1100,1200,1300,1400], "labelExpr": "datum.value % 500 === 0 ? format(datum.value, '.1f') : ''", "tickSize": -3, "labelPadding": 6, "title": "ANOMALI_TOTAL_nT", "titleFontSize": 10.5, "titlePadding": 2}}}},
 {"data": {"name": "red"}, "mark": {"type": "line", "color": "#ee2222", "strokeWidth": 1.8, "clip": true}, "encoding": {
  "x": {"field": "x", "type": "quantitative", "scale": {"domain": [-8, 825], "nice": false, "zero": false}, "axis": {"orient": "bottom", "values": [-8,100,200,300,400,500,600,700,825], "labelFlush": true, "grid": true, "gridColor": "#555", "gridOpacity": {"condition": {"test": "datum.value < 0 || datum.value > 800", "value": 0}, "value": 1}, "ticks": false, "domain": false, "labelPadding": 3, "title": "database: d:\\JUANG\\matlab_03\\DATA\\oasis_coba_03\\GRID_PROFILE_04.gdb   line/group: S400_600", "titleX": -180, "titleY": 40, "titleAlign": "left", "titleBaseline": "alphabetic", "titleFontSize": 8.8, "titleFontStyle": "italic", "titleColor": "#333"}},
  "y": {"field": "v", "type": "quantitative", "scale": {"domain": [500, 975], "nice": false, "zero": false}, "axis": {"orient": "left", "values": [500,600,700,800,900], "format": ".1f", "grid": true, "gridColor": "#888", "gridWidth": 1.5, "gridOpacity": {"condition": {"test": "datum.value === 500", "value": 0}, "value": 1}, "tickSize": -4, "labelPadding": 7, "domain": false, "title": "TOPOGRAFI_DEM", "titleFontSize": 10.5, "titlePadding": 2}}}},
 {"data": {"name": "b6"}, "mark": {"type": "line", "color": "#1818e0", "strokeWidth": 1.8, "clip": true}, "encoding": {
  "x": {"field": "x", "type": "quantitative", "scale": {"domain": [-8, 825], "nice": false, "zero": false}, "axis": {"orient": "top", "labels": false, "ticks": false, "domain": false, "title": "REDUCED TO PLANE HORIZONTAL WITH 500 METERS EQUIVALENT SOURCE DEPTH", "titleX": 293, "titleY": -30, "titleAlign": "center", "titleBaseline": "alphabetic", "titleFont": "Liberation Serif", "titleFontSize": 19.5}},
  "y": {"field": "v", "type": "quantitative", "scale": {"domain": [-25.5, 34.5], "nice": false, "zero": false}, "axis": {"orient": "left", "offset": 117, "values": [-24,-20,-16,-12,-8,-4,0,4,8,12,16,20,24,28,32], "labelExpr": "datum.value % 20 === 0 ? format(datum.value, '.1f') : ''", "tickSize": -3, "labelPadding": 6, "title": "KOREKSI_BIDANG_DATAR_500m", "titleFontSize": 9, "titlePadding": 3, "titleY": 36}}}}
]},
{"width": 688, "height": 86, "resolve": {"scale": {"x": "independent", "y": "independent"}}, "layer": [
 {"data": {"name": "green"}, "mark": {"type": "line", "color": "#2ee02e", "strokeWidth": 1.8, "clip": true}, "encoding": {
  "x": {"field": "x", "type": "quantitative", "scale": {"domain": [-8, 825], "nice": false, "zero": false}, "axis": {"orient": "bottom", "labels": false, "ticks": false, "domain": false, "title": "2020/12/02", "titleX": 705, "titleY": 35, "titleAlign": "right", "titleBaseline": "alphabetic", "titleFontSize": 8.8, "titleFontStyle": "italic", "titleColor": "#444"}},
  "y": {"field": "v", "type": "quantitative", "scale": {"domain": [-1010, 1430], "nice": false, "zero": false}, "axis": {"orient": "left", "offset": 55, "values": [-900,-800,-700,-600,-500,-400,-300,-200,-100,0,100,200,300,400,500,600,700,800,900,1000,1100,1200,1300,1400], "labelExpr": "datum.value % 500 === 0 ? format(datum.value, '.1f') : ''", "tickSize": -3, "labelPadding": 6, "title": "ANOMALI_TOTAL_nT", "titleFontSize": 10.5, "titlePadding": 2}}}},
 {"data": {"name": "red"}, "mark": {"type": "line", "color": "#ee2222", "strokeWidth": 1.8, "clip": true}, "encoding": {
  "x": {"field": "x", "type": "quantitative", "scale": {"domain": [-8, 825], "nice": false, "zero": false}, "axis": {"orient": "bottom", "values": [-8,100,200,300,400,500,600,700,825], "labelFlush": true, "grid": true, "gridColor": "#555", "gridOpacity": {"condition": {"test": "datum.value < 0 || datum.value > 800", "value": 0}, "value": 1}, "ticks": false, "domain": false, "labelPadding": 3, "title": "database: d:\\JUANG\\matlab_03\\DATA\\oasis_coba_03\\GRID_PROFILE_04.gdb   line/group: S400_600", "titleX": -180, "titleY": 35, "titleAlign": "left", "titleBaseline": "alphabetic", "titleFontSize": 8.8, "titleFontStyle": "italic", "titleColor": "#333"}},
  "y": {"field": "v", "type": "quantitative", "scale": {"domain": [500, 975], "nice": false, "zero": false}, "axis": {"orient": "left", "values": [500,600,700,800,900], "format": ".1f", "grid": true, "gridColor": "#888", "gridWidth": 1.5, "gridOpacity": {"condition": {"test": "datum.value === 500", "value": 0}, "value": 1}, "tickSize": -4, "labelPadding": 7, "domain": false, "title": "TOPOGRAFI_DEM", "titleFontSize": 10.5, "titlePadding": 2}}}},
 {"data": {"name": "b7"}, "mark": {"type": "line", "color": "#1818e0", "strokeWidth": 1.8, "clip": true}, "encoding": {
  "x": {"field": "x", "type": "quantitative", "scale": {"domain": [-8, 825], "nice": false, "zero": false}, "axis": {"orient": "top", "labels": false, "ticks": false, "domain": false, "title": "REDUCED TO PLANE HORIZONTAL WITH 600 METERS EQUIVALENT SOURCE DEPTH", "titleX": 291, "titleY": -29, "titleAlign": "center", "titleBaseline": "alphabetic", "titleFont": "Liberation Serif", "titleFontSize": 19.5}},
  "y": {"field": "v", "type": "quantitative", "scale": {"domain": [-20.4, 26.6], "nice": false, "zero": false}, "axis": {"orient": "left", "offset": 117, "values": [-18,-16,-14,-12,-10,-8,-6,-4,-2,0,2,4,6,8,10,12,14,16,18,20,22,24,26], "labelExpr": "datum.value % 10 === 0 ? format(datum.value, '.1f') : ''", "tickSize": -3, "labelPadding": 6, "title": "KOREKSI_BIDANG_DATAR_600m", "titleFontSize": 9, "titlePadding": 3, "titleY": 35}}}}
]}
]},
{"width": 72, "height": 1340, "view": {"stroke": null}, "data": {"name": "legend"}, "layer": [
 {"mark": {"type": "rule", "strokeWidth": 2.2}, "encoding": {
  "x": {"field": "i", "type": "quantitative", "scale": {"domain": [-0.2, 2.2], "nice": false, "zero": false}, "axis": null},
  "y": {"datum": 812, "type": "quantitative", "scale": {"domain": [0, 1340], "reverse": true, "nice": false, "zero": false}, "axis": null},
  "y2": {"datum": 865},
  "color": {"field": "c", "type": "nominal", "scale": {"domain": ["b", "g", "r"], "range": ["#1818e0", "#2ee02e", "#ee2222"]}, "legend": null}}},
 {"mark": {"type": "text", "angle": 270, "align": "left", "baseline": "middle", "font": "Liberation Serif", "fontSize": 20.5, "color": "#000"}, "encoding": {
  "x": {"field": "i", "type": "quantitative"},
  "y": {"datum": 803, "type": "quantitative"},
  "text": {"field": "label"}}}
]}
]
}
